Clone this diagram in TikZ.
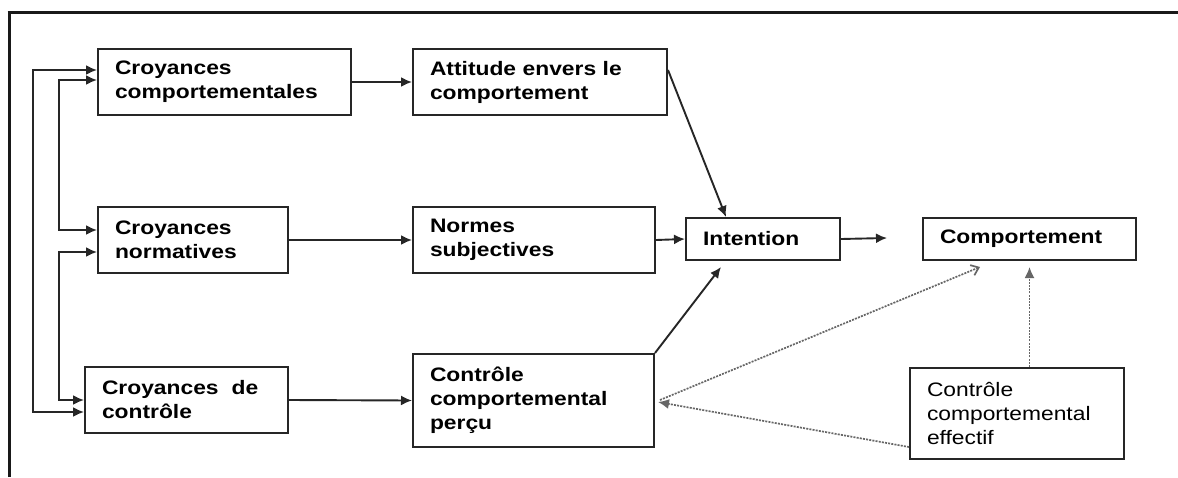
\documentclass[tikz,border=0pt]{standalone}
\usepackage{fontspec}
\setmainfont{Liberation Sans}[FakeStretch=1.17]
\usetikzlibrary{arrows.meta,calc}
\begin{document}
\begin{tikzpicture}[x=1pt,y=-1pt,
  box/.style={draw=black!85, line width=2pt, anchor=north west, inner xsep=17pt, inner ysep=0pt,
    align=left, font=\fontsize{19.5}{24}\selectfont\bfseries},
  plainbox/.style={box, font=\fontsize{19.5}{24}\selectfont},
  tip/.style={-{Latex[length=11pt,width=10pt]}},
  arr/.style={line width=1.9pt, draw=black!85, tip},
  dblarr/.style={line width=1.9pt, draw=black!85, {Latex[length=11pt,width=10pt]}-{Latex[length=11pt,width=10pt]}},
  dotarr/.style={line width=1.7pt, draw=black!60, dash pattern=on 2pt off 1.2pt},
]
\useasboundingbox (0,0) rectangle (1178,477);
\fill[white] (0,0) rectangle (1178,477);
\draw[line width=3pt, black!90] (9,477) -- (9,12);
\draw[line width=3pt, black!90] (7.5,12) -- (1178,12);

\node[box, minimum width=253pt, minimum height=66pt, text width=219pt] (CB) at (97,48) {Croyances\\comportementales};
\node[box, minimum width=190pt, minimum height=66pt, text width=156pt] (CN) at (97,206) {Croyances\\normatives};
\node[box, minimum width=203pt, minimum height=66pt, text width=169pt] (CC) at (84,366) {Croyances~ de\\contrôle};
\node[box, minimum width=254pt, minimum height=66pt, text width=220pt] (AT) at (412,48) {Attitude envers le\\comportement};
\node[box, minimum width=242pt, minimum height=66pt, text width=208pt] (NS) at (412,206) {Normes\\subjectives};
\node[box, minimum width=241pt, minimum height=93pt, text width=207pt] (CP) at (412,353) {Contrôle\\comportemental\\perçu};
\node[box, minimum width=154pt, minimum height=42pt, text width=120pt] (IN) at (685,217) {Intention};
\node[box, minimum width=213pt, minimum height=42pt, text width=179pt] (CO) at (922,217) {Comportement};
\node[plainbox, minimum width=214pt, minimum height=91pt, text width=180pt] (CE) at (909,367) {Contrôle\\comportemental\\effectif};

\coordinate (IE) at (887,238);

% feedback loops
\draw[dblarr] (CB.west |- 0,70) -- (33,70) -- (33,412) -- (CC.west |- 0,412);
\draw[dblarr] (CB.west |- 0,80) -- (59,80) -- (59,230) -- (CN.west |- 0,230);
\draw[dblarr] (CN.west |- 0,252) -- (59,252) -- (59,400) -- (CC.west |- 0,400);

% main flow
\draw[arr] (CB.east) -- (AT.west);
\draw[arr] (CN.east) -- (NS.west);
\draw[arr] (CC.east) -- (CP.west);
\draw[arr] (AT.east |- 0,70) -- ([xshift=41pt]IN.north west);
\draw[arr] (NS.east) -- (IN.west);
\draw[arr] (CP.north east) -- ([xshift=36pt,yshift=-6pt]IN.south west);
\draw[arr] (IN.east) -- (IE);

% dotted connections
\draw[dotarr, tip] (CE.west |- 0,447) -- ([xshift=3pt]CP.east |- 0,402);
\draw[dotarr, -{Straight Barb[length=7pt,width=11pt]}] ([xshift=5pt]CP.east |- 0,400) -- ([xshift=58pt,yshift=-6pt]CO.south west);
\draw[dotarr, tip] (CO.south |- CE.north) -- ([yshift=-6pt]CO.south);
\end{tikzpicture}
\end{document}
